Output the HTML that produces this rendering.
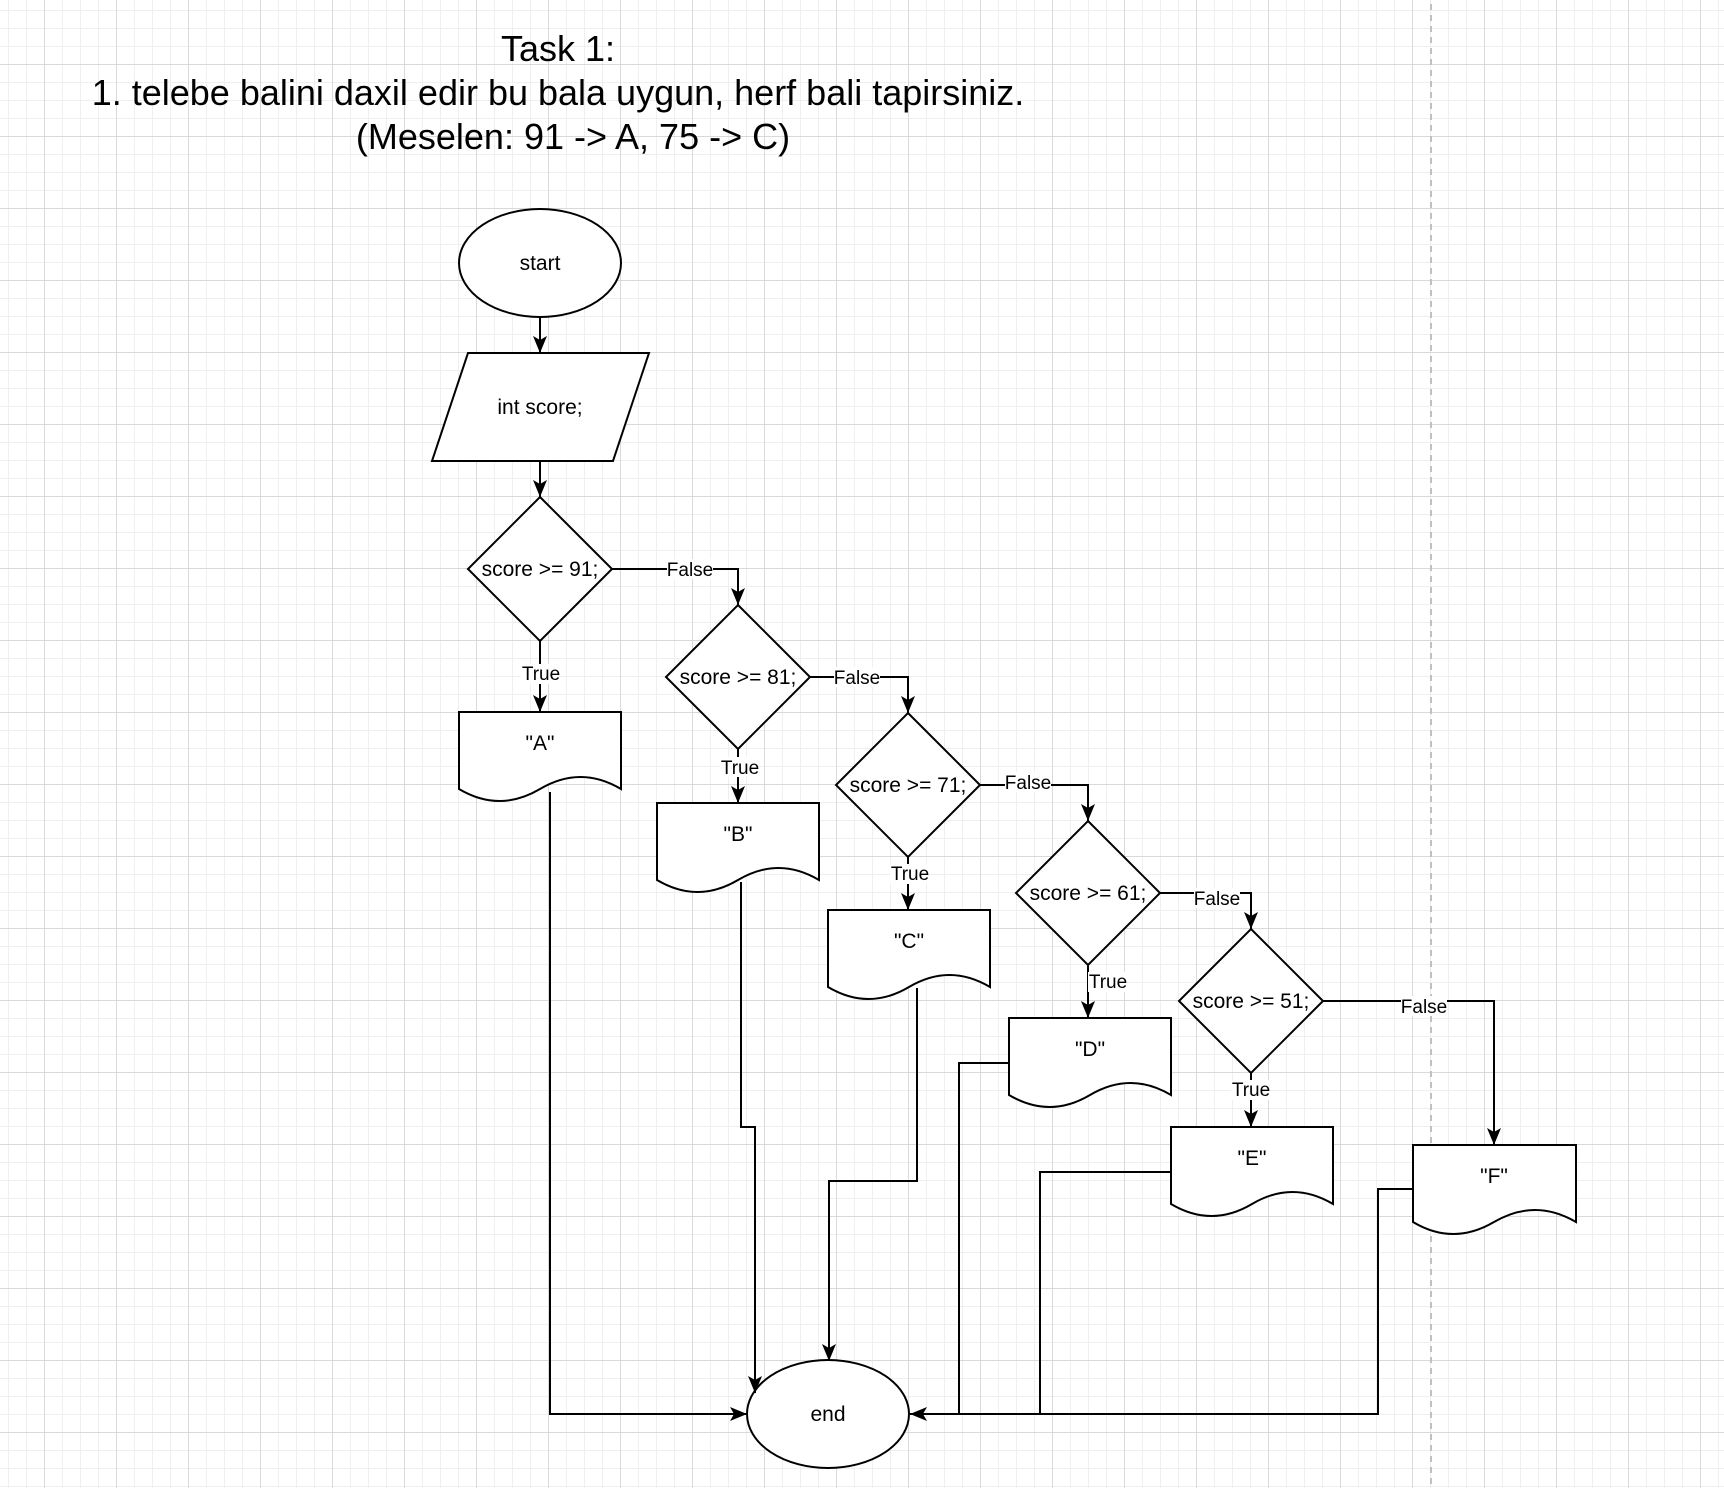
<!DOCTYPE html>
<html><head><meta charset="utf-8"><style>
html,body{margin:0;padding:0;background:#fff;}
svg{display:block;}
text{font-family:"Liberation Sans",Arial,sans-serif;fill:#000;}
</style></head><body>
<svg width="1724" height="1488" viewBox="0 0 1724 1488" xmlns="http://www.w3.org/2000/svg">
<defs>
<pattern id="minor" x="8" y="10" width="18" height="18" patternUnits="userSpaceOnUse">
<path d="M0 0H18M0 0V18" stroke="#efefef" stroke-width="2" fill="none"/>
</pattern>
<pattern id="major" x="44" y="64" width="72" height="72" patternUnits="userSpaceOnUse">
<path d="M0 0H72M0 0V72" stroke="#d2d2d2" stroke-width="1.4" fill="none"/>
</pattern>
<marker id="ar" markerUnits="userSpaceOnUse" markerWidth="20" markerHeight="16" refX="17" refY="7" orient="auto">
<path d="M0 0 L17 7 L0 14 L4 7 Z" fill="#000"/>
</marker>
</defs>
<rect width="1724" height="1488" fill="#fff"/>
<rect width="1724" height="1488" fill="url(#minor)"/>
<rect width="1724" height="1488" fill="url(#major)"/>
<line x1="1431" y1="4" x2="1431" y2="1488" stroke="#c0c0c0" stroke-width="2" stroke-dasharray="6 5"/>

<g font-size="36" text-anchor="middle">
<text x="558" y="61">Task 1:</text>
<text x="558" y="105">1. telebe balini daxil edir bu bala uygun, herf bali tapirsiniz.</text>
<text x="573" y="149">(Meselen: 91 -&gt; A, 75 -&gt; C)</text>
</g>

<g stroke="#000" stroke-width="2" fill="#fff">
<ellipse cx="540" cy="263" rx="81" ry="54"/>
<polygon points="468,353 649,353 613,461 432,461"/>
<polygon points="540,497 612,569 540,641 468,569"/>
<polygon points="738,605 810,677 738,749 666,677"/>
<polygon points="908,713 980,785 908,857 836,785"/>
<polygon points="1088,821 1160,893 1088,965 1016,893"/>
<polygon points="1251,929 1323,1001 1251,1073 1179,1001"/>
<ellipse cx="828" cy="1414" rx="81" ry="54"/>
</g>
<g stroke="#000" stroke-width="2" fill="#fff">
<path d="M459 712H621V789Q580.5 765 540 789T459 789Z"/>
<path d="M657 803H819V880Q778.5 856 738 880T657 880Z"/>
<path d="M828 910H990V987Q949.5 963 909 987T828 987Z"/>
<path d="M1009 1018H1171V1095Q1130.5 1071 1090 1095T1009 1095Z"/>
<path d="M1171 1127H1333V1204Q1292.5 1180 1252 1204T1171 1204Z"/>
<path d="M1413 1145H1576V1222Q1535 1198 1494 1222T1413 1222Z"/>
</g>

<g stroke="#000" stroke-width="2" fill="none" marker-end="url(#ar)">
<path d="M540 317V353"/>
<path d="M540 461V497"/>
<path d="M612 569H738V605"/>
<path d="M540 641V712"/>
<path d="M810 677H908V713"/>
<path d="M738 749V803"/>
<path d="M980 785H1088V821"/>
<path d="M908 857V910"/>
<path d="M1160 893H1251V929"/>
<path d="M1088 965V1018"/>
<path d="M1323 1001H1494V1145"/>
<path d="M1251 1073V1127"/>
<path d="M550 792V1414H747"/>
<path d="M741 882V1127H755V1393"/>
<path d="M917 988V1181H829V1361"/>
<path d="M1413 1189H1378V1414H910"/>
</g>
<g stroke="#000" stroke-width="2" fill="none">
<path d="M1009 1063H959V1414"/>
<path d="M1171 1172H1040V1414"/>
</g>

<g font-size="19" text-anchor="middle">
<rect x="667" y="559" width="46" height="20" fill="#fff"/><text x="690" y="576">False</text>
<rect x="834" y="667" width="46" height="20" fill="#fff"/><text x="857" y="684">False</text>
<rect x="1005" y="772" width="46" height="20" fill="#fff"/><text x="1028" y="789">False</text>
<rect x="1194" y="888" width="46" height="20" fill="#fff"/><text x="1217" y="905">False</text>
<rect x="1401" y="996" width="46" height="20" fill="#fff"/><text x="1424" y="1013">False</text>
<rect x="521" y="664" width="38" height="20" fill="#fff"/><text x="541" y="680">True</text>
<rect x="720" y="757" width="38" height="20" fill="#fff"/><text x="740" y="774">True</text>
<rect x="890" y="864" width="38" height="20" fill="#fff"/><text x="910" y="880">True</text>
<rect x="1088" y="972" width="38" height="20" fill="#fff"/><text x="1108" y="988">True</text>
<rect x="1231" y="1080" width="38" height="20" fill="#fff"/><text x="1251" y="1096">True</text>
</g>

<g font-size="21" text-anchor="middle">
<text x="540" y="270">start</text>
<text x="540" y="414">int score;</text>
<text x="540" y="576">score &gt;= 91;</text>
<text x="738" y="684">score &gt;= 81;</text>
<text x="908" y="792">score &gt;= 71;</text>
<text x="1088" y="900">score &gt;= 61;</text>
<text x="1251" y="1008">score &gt;= 51;</text>
<text x="540" y="750">"A"</text>
<text x="738" y="841">"B"</text>
<text x="909" y="948">"C"</text>
<text x="1090" y="1056">"D"</text>
<text x="1252" y="1165">"E"</text>
<text x="1494" y="1183">"F"</text>
<text x="828" y="1421">end</text>
</g>
</svg>
</body></html>
